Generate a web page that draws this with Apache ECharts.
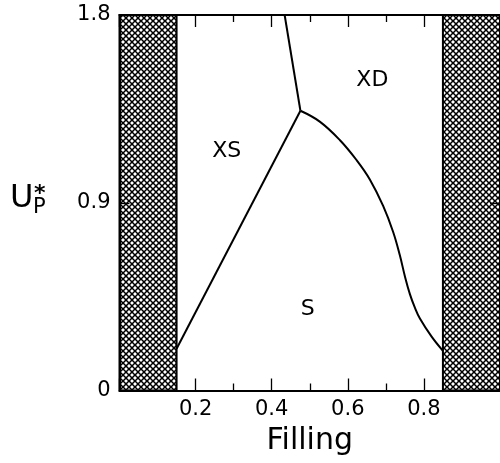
<!DOCTYPE html>
<html>
<head>
<meta charset="utf-8">
<script src="https://cdn.jsdelivr.net/npm/echarts@6/dist/echarts.min.js"></script>
<style>
html,body{margin:0;padding:0;background:#fff;overflow:hidden;}
#chart{width:500px;height:463px;}
</style>
</head>
<body>
<div id="chart"></div>
<script>
// ---- data ----
var xTicks = [0, 0.2, 0.4, 0.6, 0.8, 1.0];
var yTicks = [0, 0.9, 1.8];
var hatchLeft = [0, 0.15];
var hatchRight = [0.85, 1.0];
var lineXS_S = [[0.15, 0.20], [0.4755, 1.341]];
var lineXS_XD = [[0.434, 1.8], [0.4755, 1.341]];
var curveXD_S = [
  [0.4755, 1.341], [0.5263, 1.289], [0.5789, 1.201], [0.6229, 1.105],
  [0.6579, 1.012], [0.6929, 0.885], [0.7192, 0.760], [0.7368, 0.648],
  [0.7500, 0.548], [0.7632, 0.462], [0.7763, 0.397], [0.7895, 0.345],
  [0.8203, 0.258], [0.85, 0.19]
];
var regionNames = ['XS', 'XD', 'S'];
var regionX = [0.2816, 0.6645, 0.4947];
var regionY = [1.148, 1.488, 0.387];

// ---- hatch pattern ----
function makeHatch() {
  var c = document.createElement('canvas');
  var s = 6;
  c.width = s; c.height = s;
  var g = c.getContext('2d');
  g.fillStyle = '#fff';
  g.fillRect(0, 0, s, s);
  g.strokeStyle = '#000';
  g.lineWidth = 1.3;
  for (var k = -1; k <= 1; k++) {
    g.beginPath(); g.moveTo(k * s, 0); g.lineTo(k * s + s, s); g.stroke();
    g.beginPath(); g.moveTo(k * s + s, 0); g.lineTo(k * s, s); g.stroke();
  }
  g.fillStyle = '#000';
  var pts = [[0,0],[s,0],[0,s],[s,s],[s/2,s/2]];
  pts.forEach(function(p){ g.beginPath(); g.arc(p[0], p[1], 1.3, 0, Math.PI*2); g.fill(); });
  return c;
}
var hatch = makeHatch();

var FONT = 'DejaVu Sans';
var chart = echarts.init(document.getElementById('chart'), null, {renderer: 'canvas'});

function xAxisBase(pos, showLabel) {
  return {
    type: 'value', position: pos, min: xTicks[0], max: xTicks[xTicks.length - 1], interval: 0.2,
    axisLine: {show: true, onZero: false, lineStyle: {color: '#000', width: 2}},
    axisTick: {show: true, inside: true, length: 12, lineStyle: {color: '#000', width: 1.3}},
    minorTick: {show: true, splitNumber: 2, length: 7, lineStyle: {color: '#000', width: 1.3}},
    splitLine: {show: false},
    axisLabel: {
      show: showLabel, margin: 9, color: '#000', fontSize: 21, fontFamily: FONT,
      formatter: function (v) { return (v <= 0.001 || v >= 0.999) ? '' : v.toFixed(1); }
    }
  };
}
function yAxisBase(pos, showLabel) {
  return {
    type: 'value', position: pos, min: yTicks[0], max: yTicks[yTicks.length - 1], interval: 0.9,
    z: 5,
    axisLine: {show: true, onZero: false, lineStyle: {color: '#000', width: 2}},
    axisTick: {show: true, inside: true, length: 10, lineStyle: {color: '#000', width: 1.3}},
    splitLine: {show: false},
    axisLabel: {
      show: showLabel, margin: 9, color: '#000', fontSize: 21, fontFamily: FONT,
      formatter: function (v) { return v === 0 ? '0' : v.toFixed(1); }
    }
  };
}

var xb = xAxisBase('bottom', true);
xb.name = 'Filling';
xb.nameLocation = 'middle';
xb.nameGap = 36;
xb.nameTextStyle = {color: '#000', fontSize: 30, fontFamily: FONT};

var option = {
  animation: false,
  backgroundColor: '#fff',
  grid: {left: 119.5, width: 380.5, top: 15, bottom: 72.5, containLabel: false, outerBoundsMode: 'none'},
  xAxis: [xb, xAxisBase('top', false)],
  yAxis: [yAxisBase('left', true), yAxisBase('right', false)],
  series: [
    {
      type: 'line', name: 'XS-S', data: lineXS_S, symbol: 'none',
      lineStyle: {color: '#000', width: 2}, z: 3,
      markArea: {
        silent: true,
        itemStyle: {color: {image: hatch, repeat: 'repeat'}, borderColor: '#000', borderWidth: 2},
        data: [
          [{xAxis: hatchLeft[0], yAxis: yTicks[0]}, {xAxis: hatchLeft[1], yAxis: yTicks[2]}],
          [{xAxis: hatchRight[0], yAxis: yTicks[0]}, {xAxis: hatchRight[1], yAxis: yTicks[2]}]
        ]
      }
    },
    {
      type: 'line', name: 'XS-XD', data: lineXS_XD, symbol: 'none',
      lineStyle: {color: '#000', width: 2}, z: 3
    },
    {
      type: 'line', name: 'XD-S', data: curveXD_S, symbol: 'none', smooth: 0.4,
      lineStyle: {color: '#000', width: 2}, z: 3
    },
    {
      type: 'scatter', name: 'regions', symbolSize: 0, z: 4,
      itemStyle: {opacity: 1},
      data: regionNames.map(function (n, i) { return {name: n, value: [regionX[i], regionY[i]]}; }),
      label: {show: true, position: 'inside', formatter: '{b}', color: '#000', opacity: 1, fontSize: 22, fontFamily: FONT}
    }
  ],
  graphic: [
    {type: 'text', left: 10, top: 183, style: {text: 'U', fontSize: 32, fontFamily: FONT, fill: '#000'}},
    {type: 'text', left: 34, top: 183, style: {text: '*', fontSize: 22, fontWeight: 'bold', fontFamily: FONT, fill: '#000'}},
    {type: 'text', left: 33, top: 197, style: {text: 'P', fontSize: 21, fontFamily: FONT, fill: '#000'}}
  ]
};
chart.setOption(option);
</script>
</body>
</html>
